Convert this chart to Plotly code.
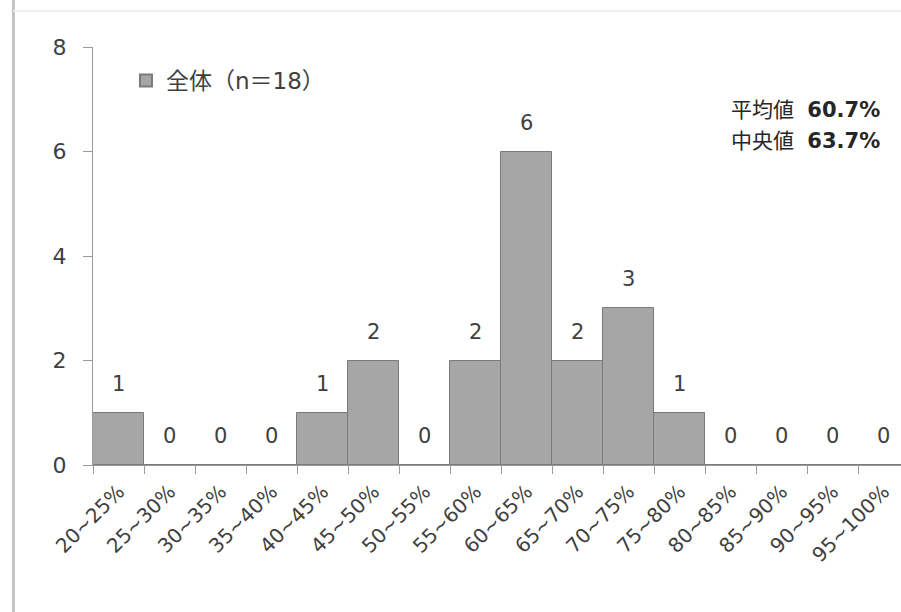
import plotly.graph_objects as go

# Distribution of respondents by ratio band
categories = ["20~25%", "25~30%", "30~35%", "35~40%", "40~45%", "45~50%",
              "50~55%", "55~60%", "60~65%", "65~70%", "70~75%", "75~80%",
              "80~85%", "85~90%", "90~95%", "95~100%"]
counts = [1, 0, 0, 0, 1, 2, 0, 2, 6, 2, 3, 1, 0, 0, 0, 0]
y_ticks = [0, 2, 4, 6, 8]

series_name = "全体（n＝18）"
stat_labels = ["平均値", "中央値"]
stat_values = ["60.7%", "63.7%"]

FONT = "DejaVu Sans, Noto Sans CJK JP, sans-serif"
TEXT_COLOR = "#404040"

fig = go.Figure()
fig.add_trace(go.Bar(
    x=categories,
    y=counts,
    name=series_name,
    marker=dict(color="#a6a6a6", line=dict(color="#7a7a7a", width=1)),
    showlegend=True,
))

# count labels above every bar (including empty bands)
for cat, val in zip(categories, counts):
    fig.add_annotation(
        x=cat, y=val, xref="x", yref="y",
        text=str(val), showarrow=False,
        yshift=29, yanchor="middle",
        font=dict(family=FONT, size=21, color=TEXT_COLOR),
    )

# summary statistics block
stat_y = [0.849, 0.775]
for lab, val, yy in zip(stat_labels, stat_values, stat_y):
    fig.add_annotation(
        x=0.9765, y=yy, xref="paper", yref="paper",
        text=f"{lab}  <b>{val}</b>", showarrow=False,
        xanchor="right", yanchor="middle",
        font=dict(family=FONT, size=21, color="#262626"),
    )

# chart-area frame edges
fig.add_shape(type="line", xref="paper", yref="paper",
              x0=-0.0984, x1=-0.0984, y0=1.2, y1=-0.4,
              line=dict(color="#c4c4c4", width=3))
fig.add_shape(type="line", xref="paper", yref="paper",
              x0=-0.0984, x1=1.05, y0=1.0861, y1=1.0861,
              line=dict(color="#eeeeee", width=2))

fig.update_layout(
    width=901, height=612,
    margin=dict(l=93, r=0, t=47, b=147, pad=0),
    paper_bgcolor="white", plot_bgcolor="white",
    bargap=0,
    font=dict(family=FONT, color=TEXT_COLOR),
    legend=dict(
        x=0.0408, y=0.92, xanchor="left", yanchor="middle",
        bgcolor="rgba(0,0,0,0)",
        font=dict(family=FONT, size=23, color=TEXT_COLOR),
        itemsizing="constant",
    ),
    xaxis=dict(
        type="category",
        range=[-0.5, 15.34],
        tickangle=-45,
        tickson="boundaries",
        ticks="outside", ticklen=8, tickcolor="#9a9a9a",
        showline=True, linecolor="#9a9a9a", linewidth=1,
        showgrid=False, zeroline=False,
        ticklabelstandoff=6,
        tickfont=dict(family=FONT, size=20, color=TEXT_COLOR),
    ),
    yaxis=dict(
        range=[0, 8],
        tickvals=y_ticks,
        ticks="outside", ticklen=9, tickcolor="#9a9a9a",
        showline=True, linecolor="#9a9a9a", linewidth=1,
        showgrid=False, zeroline=False,
        ticklabelstandoff=12,
        tickfont=dict(family=FONT, size=22, color=TEXT_COLOR),
    ),
)

fig.write_html("out.html")
